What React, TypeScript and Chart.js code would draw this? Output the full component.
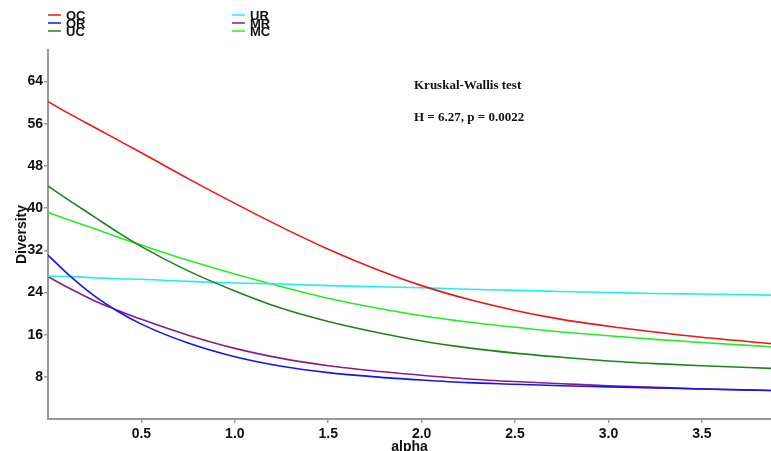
import React, { useEffect, useRef } from "react";
import { Chart, registerables } from "chart.js";

Chart.register(...registerables);

const alphas = [0, 0.125, 0.25, 0.375, 0.5, 0.75, 1.0, 1.25, 1.5, 1.75, 2.0, 2.25, 2.5, 2.75, 3.0, 3.25, 3.5, 3.87];

const OC = [60.2, 57.7, 55.3, 52.9, 50.5, 45.6, 40.9, 36.4, 32.2, 28.5, 25.3, 22.7, 20.6, 18.9, 17.6, 16.5, 15.5, 14.3];
const OR = [31.1, 26.9, 23.3, 20.4, 18.0, 14.4, 11.8, 10.0, 8.8, 8.0, 7.4, 6.9, 6.6, 6.3, 6.1, 5.9, 5.7, 5.4];
const UC = [44.2, 41.2, 38.3, 35.4, 32.7, 28.1, 24.3, 21.0, 18.5, 16.5, 14.8, 13.5, 12.5, 11.7, 11.0, 10.5, 10.1, 9.6];
const UR = [27.1, 27.0, 26.8, 26.6, 26.5, 26.1, 25.8, 25.6, 25.3, 25.1, 24.9, 24.6, 24.4, 24.2, 24.0, 23.8, 23.7, 23.5];
const MR = [27.0, 24.6, 22.4, 20.6, 18.9, 15.9, 13.4, 11.5, 10.1, 9.1, 8.3, 7.6, 7.1, 6.7, 6.3, 6.0, 5.7, 5.4];
const MC = [39.2, 37.6, 36.1, 34.5, 33.0, 30.1, 27.5, 25.1, 22.9, 21.1, 19.6, 18.4, 17.4, 16.5, 15.8, 15.1, 14.5, 13.7];

const seriesNames = ["OC", "OR", "UC", "UR", "MR", "MC"];
const seriesValues = [OC, OR, UC, UR, MR, MC];
const seriesColors = ["#f01414", "#1414f0", "#1a841a", "#22eeee", "#8a1a8a", "#22ee22"];

const yTicks = [8, 16, 24, 32, 40, 48, 56, 64];
const xTicks = [0.5, 1.0, 1.5, 2.0, 2.5, 3.0, 3.5];
const annotationLines = ["Kruskal-Wallis test", "H = 6.27, p = 0.0022"];

const overlayPlugin = {
  id: "overlay",
  afterDraw(chart: any) {
    const ctx = chart.ctx;
    ctx.save();
    const colX = [48, 232];
    const rowY = [15, 23, 31];
    ctx.font = "bold 13px 'Liberation Sans', Arial, sans-serif";
    ctx.textBaseline = "middle";
    ctx.textAlign = "left";
    seriesNames.forEach((name, i) => {
      const col = Math.floor(i / 3);
      const row = i % 3;
      const x = colX[col];
      const y = rowY[row];
      ctx.strokeStyle = seriesColors[i];
      ctx.lineWidth = 1.5;
      ctx.beginPath();
      ctx.moveTo(x, y);
      ctx.lineTo(x + 13, y);
      ctx.stroke();
      ctx.fillStyle = "#111";
      ctx.fillText(name, x + 18, y + 1);
    });
    ctx.font = "bold 13px 'Liberation Serif', 'Times New Roman', serif";
    ctx.fillStyle = "#111";
    ctx.fillText(annotationLines[0], 414, 86);
    ctx.fillText(annotationLines[1], 414, 118);
    ctx.restore();
  },
};

export default function App() {
  const ref = useRef<HTMLCanvasElement>(null);
  useEffect(() => {
    if (!ref.current) return;
    const tickFont = { family: "'Liberation Sans', Arial, sans-serif", size: 14, weight: "bold" as const };
    const chart = new Chart(ref.current, {
      type: "line",
      data: {
        datasets: seriesNames.map((name, i) => ({
          label: name,
          data: alphas.map((a, j) => ({ x: a, y: seriesValues[i][j] })),
          borderColor: seriesColors[i],
          backgroundColor: seriesColors[i],
          borderWidth: 1.6,
          pointRadius: 0,
          cubicInterpolationMode: "monotone" as const,
          fill: false,
        })),
      },
      options: {
        animation: false,
        responsive: false,
        maintainAspectRatio: false,
        layout: { padding: { top: 50, left: 0, right: 0, bottom: 0 } },
        plugins: { legend: { display: false }, tooltip: { enabled: false } },
        scales: {
          x: {
            type: "linear",
            min: 0,
            max: 3.87,
            afterBuildTicks: (scale: any) => {
              scale.ticks = xTicks.map((v) => ({ value: v }));
            },
            afterFit: (scale: any) => {
              scale.height = 32;
            },
            ticks: {
              color: "#111",
              font: tickFont,
              padding: 3,
              maxRotation: 0,
              autoSkip: false,
              callback: (v: any) => Number(v).toFixed(1),
            },
            grid: { drawOnChartArea: false, drawTicks: true, tickLength: 4, color: "#999", lineWidth: 1.5 },
            border: { display: true, color: "#999", width: 2 },
            title: {
              display: true,
              text: "alpha",
              color: "#111",
              font: { family: "'Liberation Sans', Arial, sans-serif", size: 14, weight: "bold", lineHeight: 0.6 },
              padding: { top: 0, bottom: 0 },
            },
          },
          y: {
            type: "linear",
            min: 0,
            max: 70,
            afterBuildTicks: (scale: any) => {
              scale.ticks = yTicks.map((v) => ({ value: v }));
            },
            afterFit: (scale: any) => {
              scale.width = 48;
            },
            ticks: {
              color: "#111",
              font: tickFont,
              padding: 1,
              autoSkip: false,
            },
            grid: { drawOnChartArea: false, drawTicks: true, tickLength: 4, color: "#999", lineWidth: 1.5 },
            border: { display: true, color: "#999", width: 2 },
            title: {
              display: true,
              text: "Diversity",
              color: "#111",
              font: { family: "'Liberation Sans', Arial, sans-serif", size: 14, weight: "bold" },
              padding: { top: 14, bottom: 0 },
            },
          },
        },
      },
      plugins: [overlayPlugin],
    });
    return () => chart.destroy();
  }, []);
  return (
    <div style={{ position: "fixed", left: 0, top: 0, width: 771, height: 451, background: "#fff" }}>
      <canvas ref={ref} width={771} height={451} style={{ width: 771, height: 451, display: "block" }} />
    </div>
  );
}
